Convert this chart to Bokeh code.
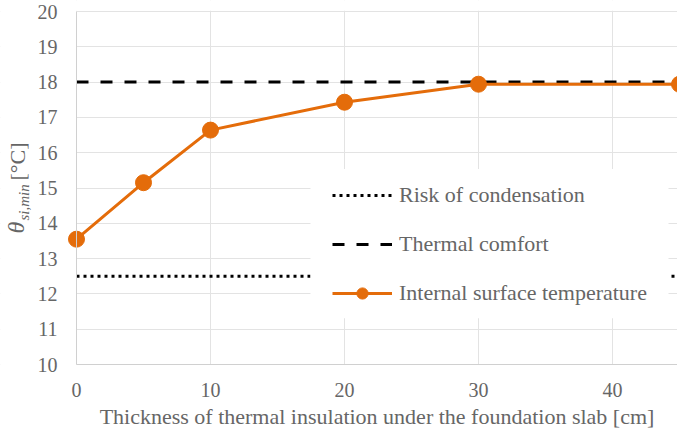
import math
from bokeh.plotting import figure
from bokeh.models import (Legend, LegendItem, FixedTicker, Range1d,
                          Label, BoxAnnotation)
from bokeh.core.properties import value
from bokeh.embed import file_html
from bokeh.resources import INLINE

# ---- data ----
thickness = [0, 5, 10, 20, 30, 45]
surface_temp = [13.55, 15.15, 16.64, 17.43, 17.94, 17.94]
limit_x = [0, 45]
condensation = [12.5, 12.5]
comfort = [18.0, 18.0]
x_ticks = [0, 10, 20, 30, 40]
y_ticks = [10, 11, 12, 13, 14, 15, 16, 17, 18, 19, 20]

FONT = "Liberation Serif"
TXT = "#666666"
ORANGE = "#E46C0A"

W, H = 677, 436
PX_X = 13.4      # px per cm
PX_Y = 35.3      # px per degree
PAD_L, PAD_T, PAD_B = 76, 11, 72
X_END = 44.85
Y0, Y1 = y_ticks[0], y_ticks[-1]

p = figure(width=W, height=H, output_backend="svg", toolbar_location=None,
           x_range=Range1d(-PAD_L / PX_X, X_END),
           y_range=Range1d(Y0 - PAD_B / PX_Y, Y1 + PAD_T / PX_Y),
           min_border_left=0, min_border_right=0, min_border_top=0,
           min_border_bottom=0)
p.outline_line_color = None
p.background_fill_color = "white"

# axes (lines only) fixed at the plot-area edges
p.xaxis.fixed_location = Y0
p.yaxis.fixed_location = 0
p.xaxis.bounds = (0, 45)
p.yaxis.bounds = (Y0, Y1)
p.xaxis.ticker = FixedTicker(ticks=[])
p.yaxis.ticker = FixedTicker(ticks=[])
p.axis.axis_line_color = "#d0d0d0"
p.axis.axis_line_width = 1
p.axis.major_tick_line_color = None
p.axis.minor_tick_line_color = None

p.xgrid.ticker = FixedTicker(ticks=x_ticks)
p.ygrid.ticker = FixedTicker(ticks=y_ticks)
p.grid.grid_line_color = "#e3e3e3"
p.grid.grid_line_width = 1

# hide grid outside the plot area
for kw in (dict(right=0), dict(top=Y0), dict(bottom=Y1 + 0.02)):
    p.add_layout(BoxAnnotation(fill_color="white", fill_alpha=1.0,
                               line_color=None, level="underlay", **kw))

# tick labels
p.text(x=x_ticks, y=[Y0] * len(x_ticks), text=[str(t) for t in x_ticks],
       y_offset=25, text_align="center", text_baseline="middle",
       text_font=value(FONT), text_font_size="20px", text_color=TXT)
p.text(x=[0] * len(y_ticks), y=y_ticks, text=[str(t) for t in y_ticks],
       x_offset=-19, text_align="right", text_baseline="middle",
       text_font=value(FONT), text_font_size="20px", text_color=TXT)

# series
r_cond = p.line(limit_x, condensation, line_color="black", line_width=3,
                line_dash="3 4")
r_comf = p.line(limit_x, comfort, line_color="black", line_width=3,
                line_dash="12 12")
r_line = p.line(thickness, surface_temp, line_color=ORANGE, line_width=3)
r_pts = p.scatter(thickness, surface_temp, size=16, fill_color=ORANGE,
                  line_color=ORANGE)

# white legend area
p.add_layout(BoxAnnotation(left=17.46, right=44.18, bottom=11.307, top=15.54,
                           fill_color="white", fill_alpha=1.0, line_color=None))

legend = Legend(items=[
    LegendItem(label="Risk of condensation", renderers=[r_cond]),
    LegendItem(label="Thermal comfort", renderers=[r_comf]),
    LegendItem(label="Internal surface temperature", renderers=[r_line, r_pts]),
], location=(247 + PAD_L + 9, PAD_B + 57))
legend.padding = 10
legend.spacing = 21
legend.glyph_width = 60
legend.glyph_height = 28
legend.label_height = 28
legend.label_standoff = 7
legend.label_text_font = FONT
legend.label_text_font_size = "22px"
legend.label_text_color = TXT
legend.background_fill_color = "white"
legend.background_fill_alpha = 1.0
legend.border_line_color = None
p.add_layout(legend)

# x axis title
p.add_layout(Label(text="Thickness of thermal insulation under the foundation slab [cm]",
                   x=X_END / 2, y=H - 416, x_units="data", y_units="screen",
                   text_align="center", text_baseline="middle",
                   text_font=FONT, text_font_size="22px", text_color=TXT))

# y axis title: theta_{si,min} [°C]
common = dict(x_units="screen", y_units="screen", angle=90, angle_units="deg",
              text_color=TXT, text_font=FONT, text_baseline="alphabetic",
              text_align="left")
p.add_layout(Label(text="θ", x=15, y=PAD_B + 131, text_font_size="24px",
                   text_font_style="italic", **common))
p.add_layout(Label(text="si,min", x=23, y=PAD_B + 144, text_font_size="15px",
                   text_font_style="italic", **common))
p.add_layout(Label(text="[°C]", x=17, y=PAD_B + 184, text_font_size="22px",
                   text_font_style="normal", **common))

open("out.html", "w").write(file_html(p, INLINE))
